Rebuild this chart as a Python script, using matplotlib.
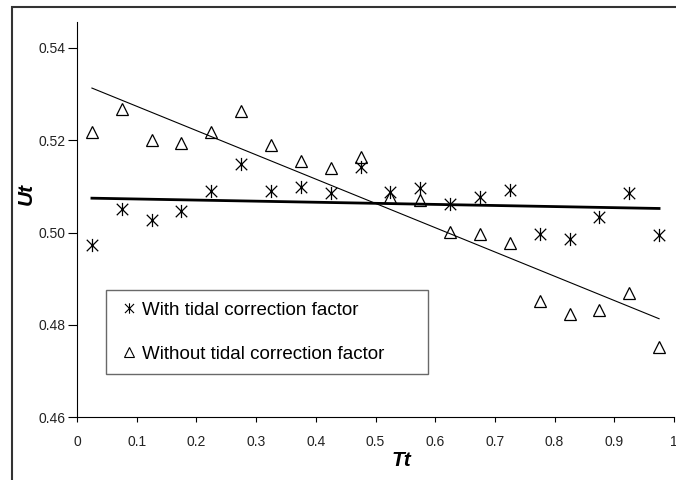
import numpy as np
import matplotlib
matplotlib.use("Agg")
import matplotlib.pyplot as plt
from matplotlib.path import Path
from matplotlib.patches import Rectangle
from matplotlib.lines import Line2D

plt.rcParams["font.family"] = ["Liberation Sans", "DejaVu Sans"]

# data
tt = [0.025, 0.075, 0.125, 0.175, 0.225, 0.275, 0.325, 0.375, 0.425, 0.475,
      0.525, 0.575, 0.625, 0.675, 0.725, 0.775, 0.825, 0.875, 0.925, 0.975]
ut_with = [0.4973, 0.5051, 0.5028, 0.5046, 0.5091, 0.5149, 0.5091, 0.5098, 0.5085, 0.5143,
           0.5088, 0.5096, 0.5062, 0.5078, 0.5093, 0.4997, 0.4986, 0.5033, 0.5085, 0.4994]
ut_without = [0.5218, 0.5267, 0.5201, 0.5194, 0.5218, 0.5264, 0.5189, 0.5156, 0.5140, 0.5163,
              0.5078, 0.5071, 0.5001, 0.4997, 0.4977, 0.4852, 0.4823, 0.4833, 0.4869, 0.4753]
labels = ["With tidal correction factor", "Without tidal correction factor"]

# excel-like star marker: X plus a vertical bar
star = Path([(-1, -1), (1, 1), (-1, 1), (1, -1), (0, -1.15), (0, 1.15)],
            [Path.MOVETO, Path.LINETO, Path.MOVETO, Path.LINETO, Path.MOVETO, Path.LINETO])

fig = plt.figure(figsize=(6.76, 4.8), dpi=100)
ax = fig.add_axes([77 / 676, 1 - 417.3 / 480, 597 / 676, 395.3 / 480])

x = np.array(tt)
ax.plot(x, ut_with, linestyle="none", marker=star, markersize=9.5,
        markeredgecolor="black", markerfacecolor="none", markeredgewidth=0.9)
ax.plot(x, ut_without, linestyle="none", marker="^", markersize=8.3,
        markeredgecolor="black", markerfacecolor="none", markeredgewidth=0.9)

# linear trend lines
p1 = np.polyfit(x, ut_with, 1)
p2 = np.polyfit(x, ut_without, 1)
xs = np.array([x[0], x[-1]])
ax.plot(xs, np.polyval(p1, xs), color="black", lw=2.0)
ax.plot(xs, np.polyval(p2, xs), color="black", lw=0.8)

ax.set_xlim(0, 1)
ax.set_ylim(0.46, 0.5456)
ax.set_xticks(np.arange(0, 1.01, 0.1))
ax.set_xticklabels(["0", "0.1", "0.2", "0.3", "0.4", "0.5", "0.6", "0.7", "0.8", "0.9", "1"])
ax.set_yticks([0.46, 0.48, 0.50, 0.52, 0.54])
ax.set_yticklabels(["0.46", "0.48", "0.50", "0.52", "0.54"])
ax.tick_params(axis="both", direction="out", width=0.8, labelsize=10,
               colors="black", labelcolor="#222222")
ax.tick_params(axis="y", length=6.5, pad=2)
ax.tick_params(axis="x", length=3.5, pad=9)
for s in ["top", "right"]:
    ax.spines[s].set_visible(False)
for s in ["left", "bottom"]:
    ax.spines[s].set_linewidth(0.8)

ax.set_xlabel("Tt", fontsize=15, fontweight="bold", fontstyle="italic")
ax.xaxis.set_label_coords(0.543, -0.085)
ax.set_ylabel("Ut", fontsize=15, fontweight="bold", fontstyle="italic")
ax.yaxis.set_label_coords(-0.069, 0.566)

handles = [
    Line2D([], [], linestyle="none", marker=star, markersize=7.5, markeredgecolor="black",
           markerfacecolor="none", markeredgewidth=0.8),
    Line2D([], [], linestyle="none", marker="^", markersize=7, markeredgecolor="black",
           markerfacecolor="none", markeredgewidth=0.8),
]
leg = ax.legend(handles, labels, loc="lower left",
                bbox_to_anchor=(0.0486, 0.1088, 0.539, 0.2115), mode="expand",
                borderaxespad=0, fontsize=13.5, frameon=True, fancybox=False,
                handlelength=1.2, handletextpad=0.1, labelspacing=1.43,
                borderpad=0.61, edgecolor="#444444")
leg.get_frame().set_linewidth(1.0)

# outer chart-area border, clipped at right and bottom
fig.patches.append(Rectangle((12 / 676, -0.1), 1.2, 1 - 7 / 480 + 0.1,
                             transform=fig.transFigure, fill=False,
                             edgecolor="#333333", linewidth=1.5))

fig.savefig("out.png", dpi=100)
